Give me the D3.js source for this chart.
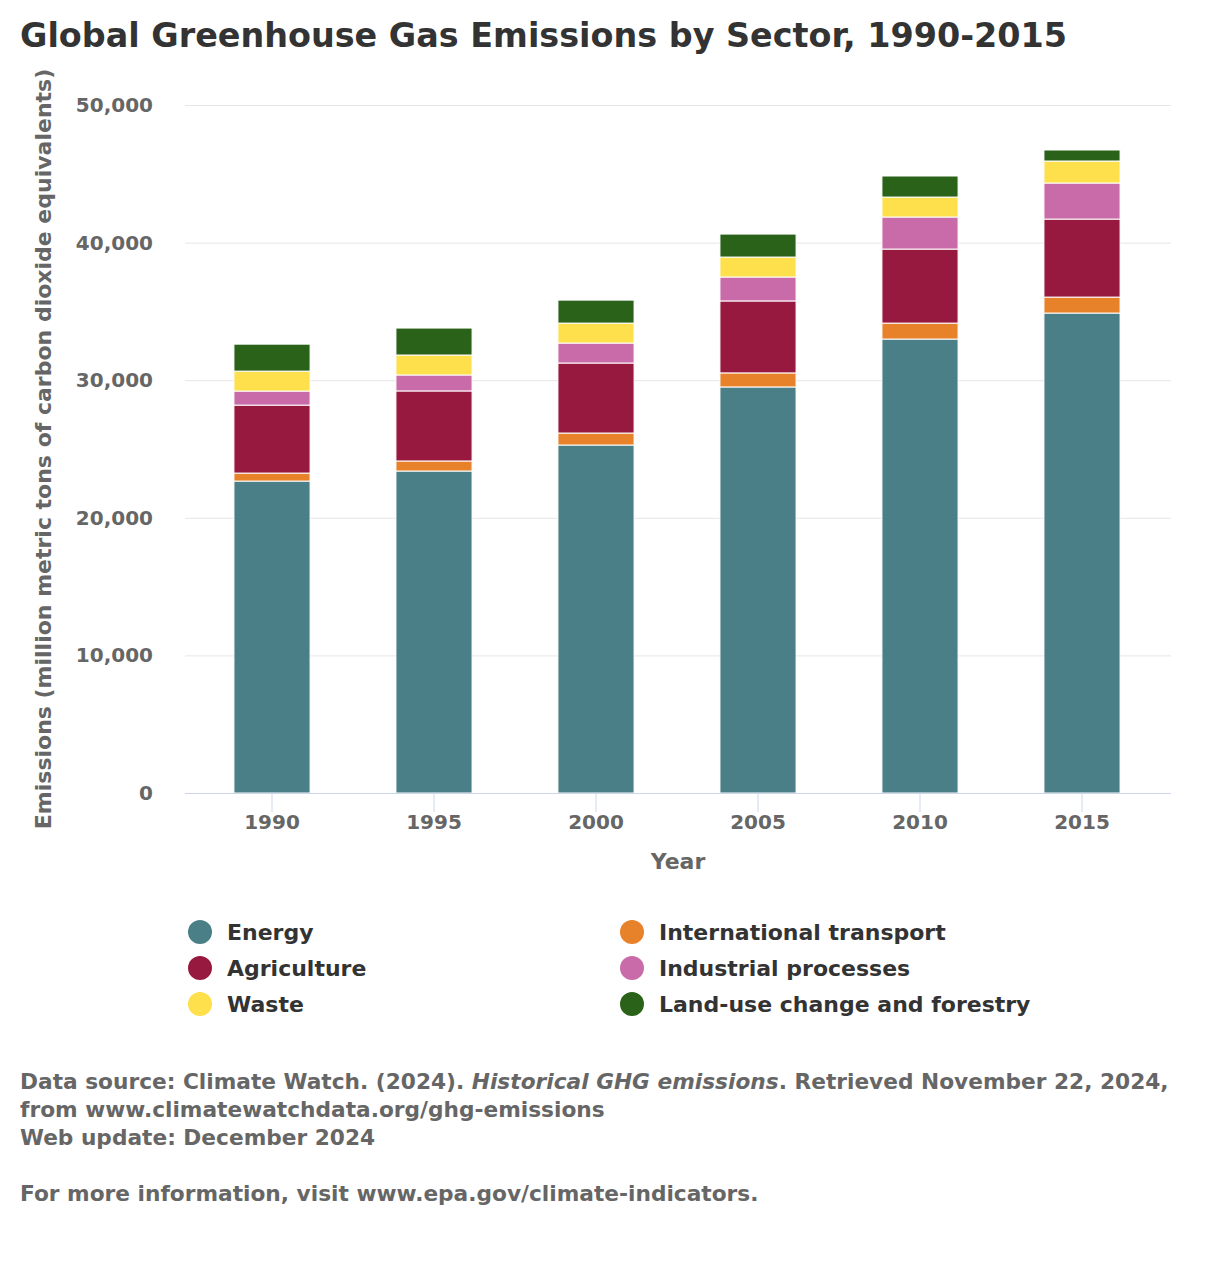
<!DOCTYPE html>
<html lang="en">
<head>
  <meta charset="UTF-8">
  <title>Global Greenhouse Gas Emissions by Sector, 1990-2015</title>
  <script src="https://d3js.org/d3.v7.min.js"></script>
  <style>
    body {
      margin: 0;
      background: #fff;
      font-family: "DejaVu Sans", Verdana, sans-serif;
    }
    .grid line {
      stroke: #e6e6e6;
      stroke-width: 1;
    }
    .tick-label {
      font-size: 20px;
      font-weight: 700;
      fill: #666;
    }
    .axis-title {
      font-size: 22px;
      font-weight: 700;
      fill: #666;
    }
    .legend-label {
      font-size: 22px;
      font-weight: 700;
      fill: #333;
    }
    .footer {
      font-size: 21.7px;
      font-weight: 700;
      fill: #666;
    }
  </style>
</head>
<body>
  <svg id="chart"></svg>
  <script>
    // values in million metric tons CO2e
    const years = ["1990", "1995", "2000", "2005", "2010", "2015"];
    const sectors = ["Energy", "International transport", "Agriculture", "Industrial processes", "Waste", "Land-use change and forestry"];
    const colors = ["#4b7f87", "#e8822a", "#98193f", "#c96ba8", "#fde04b", "#2b6219"];

    const energy = [22670, 23400, 25290, 29510, 32990, 34880];
    const transport = [580, 730, 870, 1020, 1160, 1160];
    const agriculture = [4940, 5090, 5090, 5230, 5380, 5670];
    const industrial = [1020, 1160, 1450, 1740, 2330, 2620];
    const waste = [1450, 1450, 1450, 1450, 1450, 1600];
    const landUse = [1960, 1960, 1670, 1670, 1530, 800];

    const yTicks = [0, 10000, 20000, 30000, 40000, 50000];

    // legend order as in the picture (two columns)
    const legendOrder = ["Energy", "International transport", "Agriculture", "Industrial processes", "Waste", "Land-use change and forestry"];

    const W = 1215, H = 1272;
    const plot = { left: 185, right: 1171, top: 105, bottom: 793 };

    const svg = d3.select("#chart").attr("width", W).attr("height", H);

    const rows = years.map((y, i) => ({
      year: y,
      "Energy": energy[i],
      "International transport": transport[i],
      "Agriculture": agriculture[i],
      "Industrial processes": industrial[i],
      "Waste": waste[i],
      "Land-use change and forestry": landUse[i]
    }));

    const x = d3.scaleBand().domain(years).range([191, 1163]).padding(0);
    const barW = x.bandwidth() * 0.47;
    const y = d3.scaleLinear().domain([0, 50000]).range([plot.bottom, plot.top]);
    const color = d3.scaleOrdinal().domain(sectors).range(colors);

    // title
    svg.append("text")
      .attr("x", 20).attr("y", 47)
      .attr("font-size", 33.4).attr("font-weight", 700).attr("fill", "#333")
      .text("Global Greenhouse Gas Emissions by Sector, 1990-2015");

    // gridlines
    svg.append("g").attr("class", "grid")
      .selectAll("line").data(yTicks.slice(1)).join("line")
      .attr("x1", plot.left).attr("x2", plot.right)
      .attr("y1", d => y(d) + 0.5).attr("y2", d => y(d) + 0.5);

    svg.append("g").selectAll("text").data(yTicks).join("text")
      .attr("class", "tick-label")
      .attr("x", 153).attr("y", d => y(d) + 7)
      .attr("text-anchor", "end")
      .text(d => d3.format(",")(d));

    // stacked bars
    const stacked = d3.stack().keys(sectors)(rows);
    svg.append("g").selectAll("g").data(stacked).join("g")
      .attr("fill", d => color(d.key))
      .selectAll("rect").data(d => d).join("rect")
      .attr("x", d => x(d.data.year) + (x.bandwidth() - barW) / 2)
      .attr("y", d => y(d[1]))
      .attr("width", barW)
      .attr("height", d => y(d[0]) - y(d[1]))
      .attr("stroke", "#fff").attr("stroke-width", 1);

    // x axis
    svg.append("line")
      .attr("x1", plot.left).attr("x2", plot.right)
      .attr("y1", plot.bottom + 0.5).attr("y2", plot.bottom + 0.5)
      .attr("stroke", "#ccd6eb");
    const xt = svg.append("g").selectAll("g").data(years).join("g")
      .attr("transform", d => `translate(${x(d) + x.bandwidth() / 2},0)`);
    xt.append("line")
      .attr("y1", plot.bottom).attr("y2", plot.bottom + 19)
      .attr("stroke", "#ccd6eb");
    xt.append("text").attr("class", "tick-label")
      .attr("y", 829).attr("text-anchor", "middle")
      .text(d => d);

    svg.append("text").attr("class", "axis-title")
      .attr("x", (plot.left + plot.right) / 2).attr("y", 869)
      .attr("text-anchor", "middle").text("Year");

    svg.append("text").attr("class", "axis-title")
      .attr("transform", `translate(51,${(plot.top + plot.bottom) / 2}) rotate(-90)`)
      .attr("text-anchor", "middle")
      .text("Emissions (million metric tons of carbon dioxide equivalents)");

    // legend
    const lg = svg.append("g").selectAll("g").data(legendOrder).join("g")
      .attr("transform", (d, i) => `translate(${i % 2 === 0 ? 200 : 632},${932 + Math.floor(i / 2) * 36})`);
    lg.append("circle").attr("r", 12).attr("fill", d => color(d));
    lg.append("text").attr("class", "legend-label")
      .attr("x", 27).attr("y", 8).text(d => d);

    // footer
    const foot = svg.append("g");
    const l1 = foot.append("text").attr("class", "footer").attr("x", 20).attr("y", 1089);
    l1.append("tspan").text("Data source: Climate Watch. (2024). ");
    l1.append("tspan").attr("font-style", "italic").text("Historical GHG emissions");
    l1.append("tspan").text(". Retrieved November 22, 2024,");
    foot.append("text").attr("class", "footer").attr("x", 20).attr("y", 1117)
      .text("from www.climatewatchdata.org/ghg-emissions");
    foot.append("text").attr("class", "footer").attr("x", 20).attr("y", 1145)
      .text("Web update: December 2024");
    foot.append("text").attr("class", "footer").attr("x", 20).attr("y", 1201)
      .text("For more information, visit www.epa.gov/climate-indicators.");
  </script>
</body>
</html>
